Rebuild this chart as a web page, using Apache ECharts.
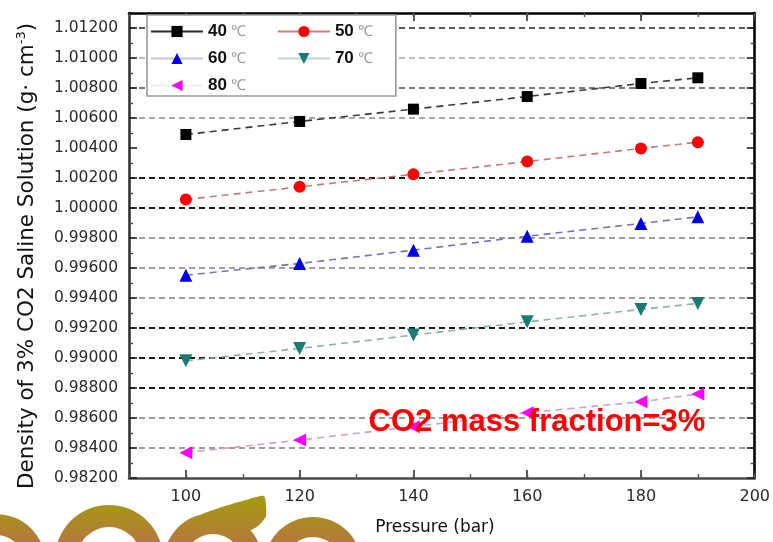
<!DOCTYPE html>
<html>
<head>
<meta charset="utf-8">
<script src="https://cdn.jsdelivr.net/npm/echarts@6/dist/echarts.min.js"></script>
<style>
html, body { margin: 0; padding: 0; background: #fff; }
#chart { width: 773px; height: 542px; }
</style>
</head>
<body>
<div id="chart"></div>
<script>
// Pressure (bar) at which each density was measured
const pressures = [100, 120, 140, 160, 180, 190];
// Series names (temperature)
const temperatures = ['40℃', '50℃', '60℃', '70℃', '80℃'];
// Density of 3% CO2 saline solution, g/cm3
const density40 = [1.00490, 1.00577, 1.00659, 1.00743, 1.00830, 1.00868];
const density50 = [1.00057, 1.00141, 1.00225, 1.00310, 1.00397, 1.00439];
const density60 = [0.99552, 0.99630, 0.99719, 0.99812, 0.99897, 0.99941];
const density70 = [0.98981, 0.99064, 0.99153, 0.99241, 0.99324, 0.99364];
const density80 = [0.98369, 0.98453, 0.98542, 0.98635, 0.98708, 0.98760];
// Axis tick labels
const xTickLabels = [100, 120, 140, 160, 180, 200];
const yTickLabels = ['0.98200', '0.98400', '0.98600', '0.98800', '0.99000', '0.99200',
  '0.99400', '0.99600', '0.99800', '1.00000', '1.00200', '1.00400', '1.00600',
  '1.00800', '1.01000', '1.01200'];

const X_MIN = 90, X_MAX = 200;
const Y_MIN = 0.982, Y_MAX = 1.013;
const yMajor = yTickLabels.map(Number);
const yMinor = yMajor.slice(0, -1).map(v => +(v + 0.001).toFixed(4));

const chart = echarts.init(document.getElementById('chart'), null, { renderer: 'canvas' });

const AXIS_FONT = 'DejaVu Sans';

// Horizontal dashed grid lines, one colour per major tick (bottom to top)
const gridColors = [
  'rgba(0,0,0,0)', '#9c9c9c', '#9c9c9c', '#1a1a1a', '#1a1a1a', '#1a1a1a',
  '#a0a0a0', '#a0a0a0', '#a0a0a0', '#1a1a1a', '#1a1a1a', 'rgba(0,0,0,0)',
  '#a8a8a8', '#7a7a7a', '#bdbdbd', '#5a5a5a', 'rgba(0,0,0,0)'
];

function xAxisDef(position, ticks, len, withLine, withLabels) {
  return {
    type: 'value', position, min: X_MIN, max: X_MAX, interval: 10,
    axisLine: { show: withLine, onZero: false, lineStyle: { color: position === 'top' ? '#000' : '#4a4a4a', width: 2.6 } },
    axisTick: ticks ? { show: true, inside: true, length: len, customValues: ticks, lineStyle: { color: '#333', width: 1.6 } }
                    : { show: true, inside: true, length: len, lineStyle: { color: '#555', width: 1.4 } },
    axisLabel: withLabels ? {
      show: true, customValues: xTickLabels, margin: 11,
      fontFamily: AXIS_FONT, fontSize: 16, color: '#2a2a2a'
    } : { show: false },
    splitLine: { show: false }
  };
}

function yAxisDef(position, main, withLabels) {
  return {
    type: 'value', position, min: Y_MIN, max: Y_MAX,
    interval: main ? 0.002 : undefined,
    axisLine: { show: main, onZero: false, lineStyle: { color: position === 'right' ? '#000' : '#333', width: 2.6 } },
    axisTick: main
      ? { show: true, inside: true, length: 8, customValues: yMajor, lineStyle: { color: '#222', width: 1.6 } }
      : { show: true, inside: true, length: 4, customValues: yMinor, lineStyle: { color: '#444', width: 1.4 } },
    axisLabel: withLabels ? {
      show: true, customValues: yMajor, margin: 11,
      formatter: v => v.toFixed(5),
      fontFamily: AXIS_FONT, fontSize: 15.5, color: '#2a2a2a'
    } : { show: false },
    splitLine: withLabels ? {
      show: true,
      lineStyle: { color: gridColors, width: 2, type: [6, 4] }
    } : { show: false }
  };
}

function lineSeries(name, values, color, lineColor, symbol, size, rotate) {
  return {
    name, type: 'line',
    xAxisIndex: 0, yAxisIndex: 0,
    data: pressures.map((p, i) => [p, values[i]]),
    symbol, symbolSize: size, symbolRotate: rotate || 0,
    showAllSymbol: true,
    itemStyle: { color, borderWidth: 0 },
    lineStyle: { color: lineColor, width: 1.6, type: [7, 5] },
    emphasis: { disabled: true },
    z: 3
  };
}

// Legend swatch line colours
const legendLineColors = ['#2a2a2a', '#d07c7c', '#c2c6de', '#c6d6d2', '#f4ecf4'];

const logoFill = {
  type: 'linear', x: 0, y: 500, x2: 0, y2: 545, global: true,
  colorStops: [{ offset: 0, color: '#a49a12' }, { offset: 1, color: '#b6763e' }]
};

const option = {
  backgroundColor: '#fff',
  animation: false,
  grid: { left: 129, right: 16, top: 13, bottom: 64, containLabel: false },
  xAxis: [
    xAxisDef('bottom', xTickLabels, 8, true, true),
    xAxisDef('bottom', null, 4, false, false),
    xAxisDef('top', xTickLabels, 8, true, false),
    xAxisDef('top', null, 4, false, false)
  ],
  yAxis: [
    yAxisDef('left', true, true),
    yAxisDef('left', false, false),
    yAxisDef('right', true, false),
    yAxisDef('right', false, false)
  ],
  legend: {
    left: 147, top: 15,
    width: 250,
    orient: 'horizontal',
    data: temperatures.map((name, i) => ({ name, lineStyle: { color: legendLineColors[i] } })),
    itemWidth: 52, itemHeight: 14, itemGap: 10,
    padding: [8, 2, 2, 3],
    backgroundColor: '#fff',
    borderColor: '#9a9a9a', borderWidth: 1.6, borderRadius: 0,
    lineStyle: { type: 'solid', width: 2 },
    // trailing no-break spaces keep both legend columns aligned
    formatter: name => '{n|' + name.replace('℃', '') + '}{u| ℃}{g|\u00a0\u00a0\u00a0\u00a0\u00a0}',
    textStyle: {
      rich: {
        n: { fontFamily: 'Liberation Sans', fontWeight: 'bold', fontSize: 17, color: '#111' },
        u: { fontFamily: 'Liberation Sans', fontSize: 15, color: '#9a9a9a' },
        g: { fontFamily: 'Liberation Sans', fontSize: 15 }
      }
    },
    selectedMode: false,
    z: 10
  },
  series: [
    lineSeries(temperatures[0], density40, '#000000', '#3a3a3a', 'rect', 11),
    lineSeries(temperatures[1], density50, '#ff0000', '#c47a7a', 'circle', 12),
    lineSeries(temperatures[2], density60, '#0000e6', '#7476b4', 'triangle', 13),
    lineSeries(temperatures[3], density70, '#1b7a72', '#8fb0a8', 'triangle', 13, 180),
    lineSeries(temperatures[4], density80, '#ff00ff', '#c9a3c9', 'triangle', 13, 90)
  ],
  graphic: [
    {
      type: 'text', x: 537, y: 422, z: 20,
      style: {
        text: 'CO2 mass fraction=3%', fill: '#ff0000',
        font: 'bold 31px "Liberation Sans", Arial, sans-serif',
        align: 'center', verticalAlign: 'middle'
      }
    },
    {
      type: 'text', x: 27, y: 256, rotation: Math.PI / 2, z: 20,
      style: {
        text: 'Density of 3% CO2 Saline Solution (g· cm{s|-3})',
        fill: '#111', font: '21.5px "DejaVu Sans", sans-serif',
        align: 'center', verticalAlign: 'middle',
        rich: { s: { fontSize: 13, fontFamily: 'DejaVu Sans', verticalAlign: 'top', padding: [0, 0, 10, 0], fill: '#111' } }
      }
    },
    {
      type: 'text', x: 435, y: 528, z: 20,
      style: {
        text: 'Pressure (bar)', fill: '#111',
        font: '17px "DejaVu Sans", sans-serif',
        align: 'center', verticalAlign: 'middle'
      }
    },
    // decorative letter shapes along the bottom-left edge
    { type: 'ring', z: 1, shape: { cx: -4, cy: 564, r: 50, r0: 29 }, style: { fill: logoFill } },
    { type: 'ring', z: 1, shape: { cx: 109, cy: 559, r: 54, r0: 32 }, style: { fill: logoFill } },
    { type: 'ring', z: 1, shape: { cx: 213, cy: 563, r: 50, r0: 29 }, style: { fill: logoFill } },
    { type: 'polygon', z: 1, shape: { points: [[200, 516], [222, 507], [246, 500], [264, 496], [266, 516], [258, 526], [244, 532]], smooth: 0.2 }, style: { fill: logoFill } },
    { type: 'ring', z: 1, shape: { cx: 313, cy: 566, r: 49, r0: 29 }, style: { fill: logoFill } }
  ]
};

chart.setOption(option);
</script>
</body>
</html>
